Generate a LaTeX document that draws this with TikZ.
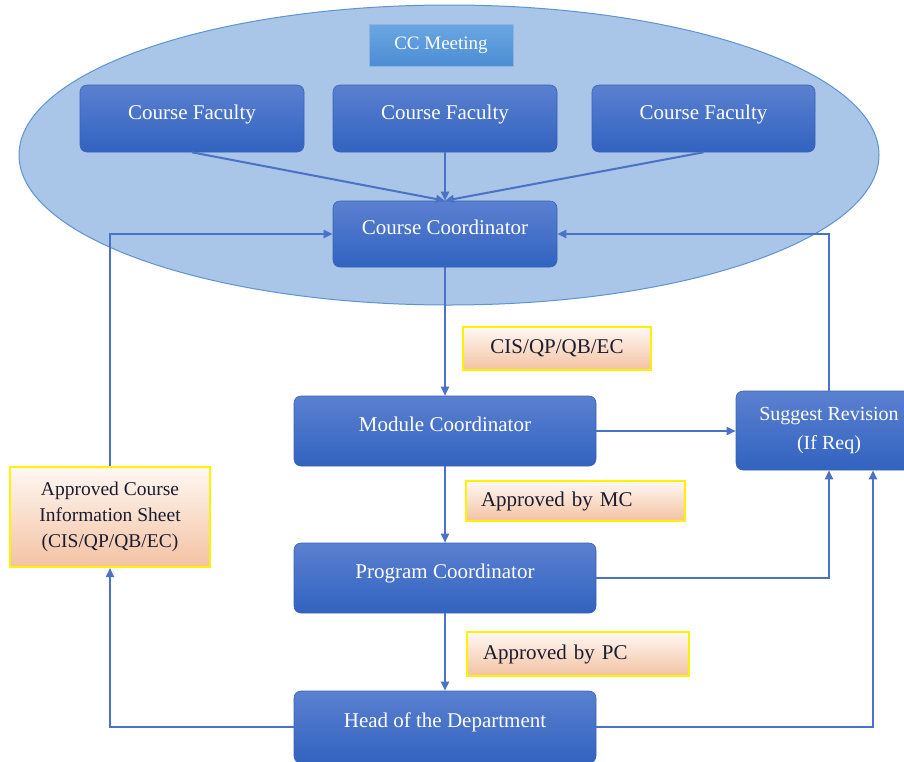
\documentclass[tikz,border=0pt]{standalone}
\usepackage{fontspec}
\setmainfont{Liberation Serif}
\usetikzlibrary{arrows.meta,shapes.geometric}

\definecolor{roleTop}{HTML}{5B80D0}
\definecolor{roleBot}{HTML}{3163C0}
\definecolor{roleEdge}{HTML}{3A62B5}
\definecolor{flow}{HTML}{4A72C6}
\definecolor{meetFill}{HTML}{A9C5E7}
\definecolor{meetEdge}{HTML}{5F93D2}
\definecolor{tagTop}{HTML}{6BA7E1}
\definecolor{tagBot}{HTML}{4B8CD5}
\definecolor{noteTop}{HTML}{FFF8F3}
\definecolor{noteBot}{HTML}{F3C2A2}
\definecolor{noteEdge}{HTML}{FFF200}
\definecolor{noteText}{HTML}{1C1C30}

\begin{document}
\begin{tikzpicture}[x=1pt,y=-1pt,
  role/.style={rectangle, rounded corners=7pt, top color=roleTop, bottom color=roleBot,
    draw=roleEdge, line width=0.6pt, text=white, inner sep=0pt,
    font=\fontsize{21}{25}\selectfont, text height=12pt, text depth=11pt},
  note/.style={rectangle, top color=noteTop, bottom color=noteBot, draw=noteEdge,
    line width=2pt, text=noteText, inner sep=0pt, font=\fontsize{21}{25}\selectfont},
  flowline/.style={draw=flow, line width=2pt},
  flowarrow/.style={flowline, -{Triangle[length=9pt,width=8pt]}}
]
\useasboundingbox (0,0) rectangle (904,761);

% meeting ellipse and its tag
\node[ellipse, fill=meetFill, draw=meetEdge, line width=1pt,
      minimum width=860pt, minimum height=300pt] (meeting) at (449,155) {};
\node[rectangle, top color=tagTop, bottom color=tagBot, draw=meetEdge!70!white,
      line width=0.8pt, minimum width=144pt, minimum height=42pt, text=white,
      font=\fontsize{19}{22}\selectfont] (cctag) at (441,45) {CC Meeting};

% role boxes
\node[role, minimum width=224pt, minimum height=67pt] (fac1) at (192,118.5) {Course Faculty};
\node[role, minimum width=224pt, minimum height=67pt] (fac2) at (445,118.5) {Course Faculty};
\node[role, minimum width=223pt, minimum height=67pt] (fac3) at (703.5,118.5) {Course Faculty};
\node[role, minimum width=224pt, minimum height=66pt] (cc) at (445,234) {Course Coordinator};
\node[role, minimum width=302pt, minimum height=70pt] (mc) at (445,431) {Module Coordinator};
\node[role, minimum width=302pt, minimum height=70pt] (pc) at (445,578) {Program Coordinator};
\node[role, minimum width=302pt, minimum height=72pt] (hod) at (445,727) {Head of the Department};
\node[role, minimum width=186pt, minimum height=79pt, align=center,
      text height={}, text depth={}, font=\fontsize{20}{29}\selectfont]
      (sr) at (829,430.5) {Suggest Revision\\(If Req)};

% notes on the flow
\node[note, minimum width=188pt, minimum height=43pt] (cisnote) at (557,348.5) {CIS/QP/QB/EC};
\node[note, minimum width=219pt, minimum height=40pt, text width=189pt, align=left] (mcnote) at (575.5,501) {Approved by MC};
\node[note, minimum width=222pt, minimum height=44pt, text width=190pt, align=left] (pcnote) at (578,654) {Approved by PC};
\node[note, minimum width=200pt, minimum height=100pt, align=center,
      font=\fontsize{19.5}{26}\selectfont] (acis) at (110,517)
      {Approved Course\\Information Sheet\\(CIS/QP/QB/EC)};

% faculty to coordinator
\draw[flowarrow] (fac1.south) -- (cc.north);
\draw[flowarrow] (fac2.south) -- (cc.north);
\draw[flowarrow] (fac3.south) -- (cc.north);

% main approval chain
\draw[flowarrow] (cc.south) -- (mc.north);
\draw[flowarrow] (mc.south) -- (pc.north);
\draw[flowarrow] (pc.south) -- (hod.north);

% revision paths
\coordinate (srin) at ([xshift=44pt]sr.south);
\draw[flowarrow] (mc.east) -- (mc.east -| sr.west);
\draw[flowarrow] (pc.east) -| (sr.south);
\draw[flowarrow] (hod.east) -| (srin);
\draw[flowarrow] (sr.north) |- (cc.east);

% approved sheet path
\draw[flowarrow] (hod.west) -| (acis.south);
\draw[flowarrow] (acis.north) |- (cc.west);
\end{tikzpicture}
\end{document}
